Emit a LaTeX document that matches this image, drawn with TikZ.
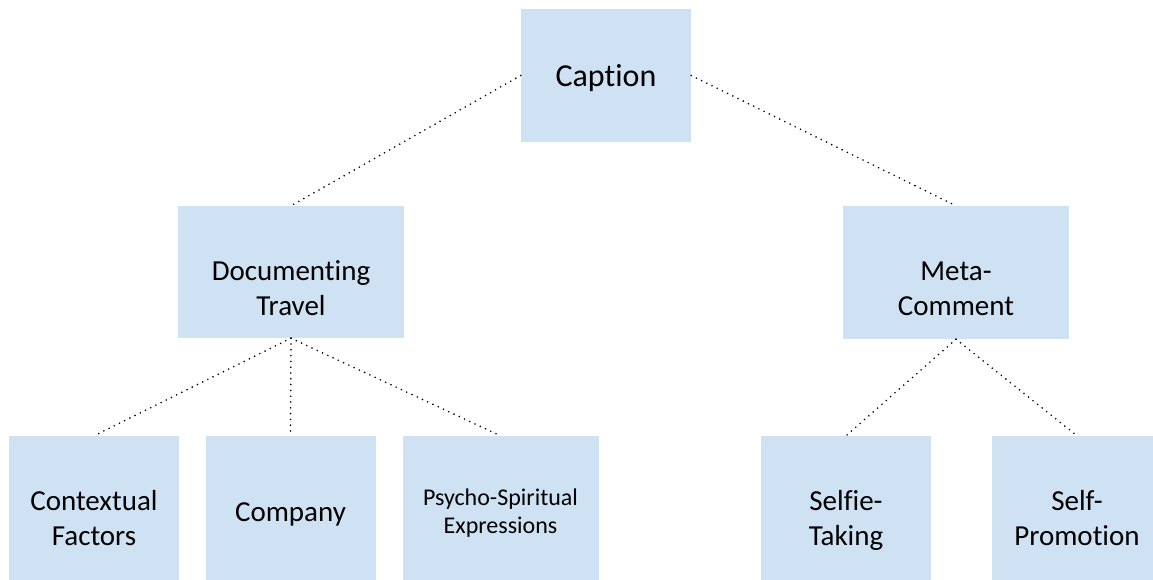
\documentclass[tikz,border=0pt]{standalone}
\usepackage{fontspec}
\setmainfont{Carlito}[Ligatures={NoCommon}]
\definecolor{boxfill}{RGB}{207,226,243}
\begin{document}
\begin{tikzpicture}[x=1pt,y=-1pt,
  box/.style={rectangle,fill=boxfill,draw=none,inner sep=0pt},
  conn/.style={line width=1.8pt,dash pattern=on 0pt off 5.8pt,line cap=round,black},
  lab/.style={anchor=base,inner sep=0pt,text=black},
  big/.style={font=\fontsize{32}{38}\selectfont},
  mid/.style={font=\fontsize{29}{35}\selectfont},
  small/.style={font=\fontsize{24}{28}\selectfont}]
\useasboundingbox (0,0) rectangle (1153,579);
\clip (0,0) rectangle (1153,579);
% boxes
\node[box,minimum width=170pt,minimum height=133pt] (cap) at (606,75.5) {};
\node[box,minimum width=226pt,minimum height=132pt] (doc) at (291,272) {};
\node[box,minimum width=226pt,minimum height=133pt] (meta) at (956,272.5) {};
\node[box,minimum width=170pt,minimum height=145pt] (ctx) at (94,508.5) {};
\node[box,minimum width=170pt,minimum height=145pt] (comp) at (290.5,508.5) {};
\node[box,minimum width=196pt,minimum height=145pt] (psy) at (500.5,508.5) {};
\node[box,minimum width=170pt,minimum height=145pt] (self) at (846,508.5) {};
\node[box,minimum width=170pt,minimum height=145pt] (prom) at (1077,508.5) {};
% labels
\node[lab,big] (capt) at (606,86.5) {Caption};
\node[lab,mid] (doct1) at (291,280.5) {Documenting};
\node[lab,mid] (doct2) at (291,315.5) {Travel};
\node[lab,mid] (metat1) at (956,280.5) {Meta-};
\node[lab,mid] (metat2) at (956,315.5) {Comment};
\node[lab,mid] (ctxt1) at (94,510.5) {Contextual};
\node[lab,mid] (ctxt2) at (94,545.5) {Factors};
\node[lab,mid] (compt) at (290.5,521) {Company};
\node[lab,small] (psyt1) at (500.5,505) {Psycho-Spiritual};
\node[lab,small] (psyt2) at (500.5,533) {Expressions};
\node[lab,mid] (selft1) at (846,510.5) {Selfie-};
\node[lab,mid] (selft2) at (846,545.5) {Taking};
\node[lab,mid] (promt1) at (1077,510.5) {Self-};
\node[lab,mid] (promt2) at (1077,545.5) {Promotion};
% connectors
\draw[conn] (cap.west) -- (doc.north);
\draw[conn] (cap.east) -- (meta.north);
\draw[conn] (doc.south) -- (ctx.north);
\draw[conn] (doc.south) -- (comp.north);
\draw[conn] (doc.south) -- (psy.north);
\draw[conn] (meta.south) -- (self.north);
\draw[conn] (meta.south) -- (prom.north);
\end{tikzpicture}
\end{document}
